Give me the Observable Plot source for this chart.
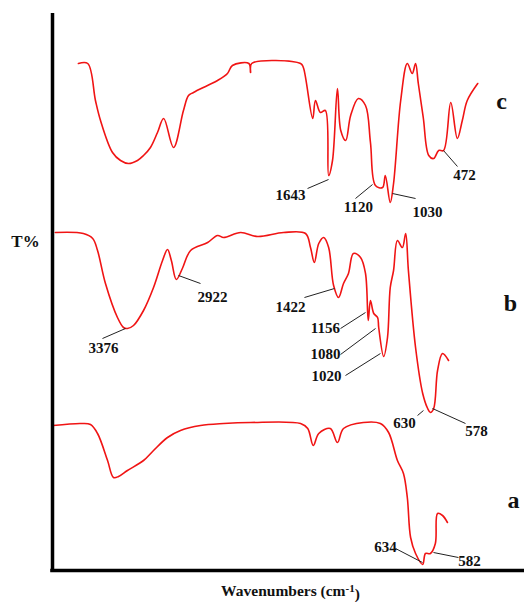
<!DOCTYPE html>
<html>
<head>
<meta charset="utf-8">
<script src="https://cdn.jsdelivr.net/npm/d3@7"></script>
<script src="https://cdn.jsdelivr.net/npm/@observablehq/plot@0.6"></script>
<style>
  html, body { margin: 0; padding: 0; background: #fff; }
  #chart svg { display: block; }
</style>
</head>
<body>
<div id="chart"></div>
<script>
// ---- Data (wavenumber in cm-1, stacked transmittance in arbitrary T% units) ----
const seriesNames = ["a", "b", "c"];

const aWn = [4040, 3790, 3700, 3636, 3545, 3491, 3445, 3364, 3218, 3127, 3000, 2882, 2700, 2490, 2245, 1790, 1725, 1675, 1625, 1520, 1455, 1400, 1220, 1065, 990, 910, 855, 820, 790, 745, 680, 655, 610, 565, 545, 500, 455];
const aT  = [29, 29.4, 29.2, 27.4, 22, 18.6, 18.8, 20, 22, 24, 26.6, 28, 29, 29.4, 29.6, 29.4, 28.4, 25, 27.4, 28.4, 25.6, 28.4, 29.6, 29.4, 27.6, 22, 19.4, 14.6, 6.6, 3.4, 1.2, 3.4, 3.4, 5.4, 11.4, 11, 9.6];

const bWn = [4020, 3765, 3680, 3636, 3564, 3455, 3400, 3365, 3309, 3218, 3127, 3045, 3000, 2965, 2920, 2865, 2790, 2635, 2545, 2490, 2335, 2180, 1945, 1745, 1700, 1665, 1625, 1580, 1535, 1490, 1445, 1400, 1355, 1310, 1245, 1200, 1175, 1155, 1125, 1090, 1080, 1035, 1000, 975, 945, 910, 865, 835, 810, 745, 680, 635, 610, 580, 545, 500, 445];
const bT  = [67.6, 67.4, 66.4, 64, 57.4, 50.6, 48.6, 48.4, 49, 52, 56.6, 62, 64.2, 62, 58.2, 60.4, 64, 65.6, 67, 66.6, 67.6, 66.8, 67.6, 67.4, 64.6, 61.6, 65.4, 66.6, 64.6, 57, 54.6, 57.4, 59.4, 63.4, 62.6, 59.4, 50, 54, 51.4, 50.6, 48.6, 42.8, 46.6, 56.6, 60, 66, 64.6, 67.4, 60, 44.6, 35.4, 32.4, 31.6, 32.4, 40, 43.4, 42];

const cWn = [3810, 3725, 3655, 3609, 3500, 3427, 3355, 3273, 3218, 3155, 3091, 3035, 2945, 2855, 2809, 2764, 2636, 2545, 2455, 2410, 2260, 2245, 2235, 1790, 1765, 1680, 1655, 1610, 1565, 1535, 1500, 1455, 1425, 1380, 1335, 1265, 1200, 1155, 1110, 1045, 1020, 975, 945, 880, 820, 775, 745, 720, 675, 625, 580, 535, 490, 425, 365, 320, 275, 180];
const cT  = [101.4, 101.4, 94, 90, 83.6, 82, 81.4, 82, 83, 84.6, 87.6, 90.4, 84.6, 92, 95, 95.6, 97, 98, 99.4, 101, 101.4, 99.6, 101.4, 101.4, 100.6, 90.4, 94, 91.6, 92, 79, 82, 96.4, 88, 86, 91, 94.4, 93, 85.6, 77, 76.6, 79, 73.6, 77.4, 94, 101.4, 99.4, 101.4, 97.4, 90.6, 83, 82.4, 84, 84, 93.6, 86.4, 90, 94, 97.4];

// Peak annotations: label, label position, leader line start/end (data units)
const peakLabels = ["1643", "1120", "1030", "472", "3376", "2922", "1422", "1156", "1080", "1020", "630", "578", "634", "582"];
const labelWn = [1882, 1264, 636, 300, 3582, 2591, 1882, 1564, 1564, 1555, 845, 191, 1018, 255];
const labelT  = [75, 72.6, 71.6, 79, 44.4, 54.6, 52.6, 48.4, 43.2, 38.8, 29.4, 27.8, 4.6, 1.8];
const leadWn1 = [1727, 1291, 745, 364, 3591, 2700, 1755, 1427, 1427, 1382, 727, 291, 927, 355];
const leadT1  = [76.4, 74.4, 74.4, 80.8, 46.4, 57.4, 54.6, 48.4, 43.2, 39, 31, 29.4, 4.4, 2.6];
const leadWn2 = [1536, 1136, 955, 491, 3382, 2900, 1482, 1200, 1109, 1064, 673, 591, 682, 582];
const leadT2  = [78.2, 77.2, 75.4, 84, 48.4, 59, 56.4, 51.6, 48.4, 43.4, 32, 32.4, 1.6, 3.6];

// Series tags
const tagWn = [-145, -118, -36];
const tagT  = [14, 53.4, 93.8];

const xDomain = [4045.5, -245.4];
const yDomain = [0, 112];
const yAxisTop = 111.4;
const xTitle = "Wavenumbers (cm-1)";
const yTitle = "T%";

// ---- Build tables ----
const spectra = [];
[[aWn, aT], [bWn, bT], [cWn, cT]].forEach(([w, t], i) => {
  w.forEach((v, j) => spectra.push({series: seriesNames[i], wn: v, T: t[j]}));
});
const peaks = peakLabels.map((l, i) => ({
  label: l, x: labelWn[i], y: labelT[i],
  x1: leadWn1[i], y1: leadT1[i], x2: leadWn2[i], y2: leadT2[i]
}));
const tags = seriesNames.map((s, i) => ({label: s, x: tagWn[i], y: tagT[i]}));

const font = "'Liberation Serif', 'Times New Roman', serif";

const chart = Plot.plot({
  width: 524,
  height: 602,
  marginLeft: 52,
  marginRight: 0,
  marginTop: 10,
  marginBottom: 32,
  style: {background: "#fff", fontFamily: font},
  x: {domain: xDomain, axis: null},
  y: {domain: yDomain, axis: null},
  marks: [
    Plot.line(spectra, {x: "wn", y: "T", z: "series", stroke: "#f01414", strokeWidth: 1.6, curve: "catmull-rom"}),
    Plot.link(peaks, {x1: "x1", y1: "y1", x2: "x2", y2: "y2", stroke: "#222", strokeWidth: 1}),
    Plot.text(peaks, {x: "x", y: "y", text: "label", fontSize: 15, fontWeight: "bold", fill: "#111", fontFamily: font}),
    Plot.text(tags, {x: "x", y: "y", text: "label", fontSize: 24, fontWeight: "bold", fill: "#111", fontFamily: font}),
    Plot.ruleX([xDomain[0]], {y1: yDomain[0] - 0.35, y2: yAxisTop, stroke: "#000", strokeWidth: 3.5}),
    Plot.ruleY([yDomain[0]], {x1: xDomain[0] + 16, x2: xDomain[1], stroke: "#000", strokeWidth: 3.5}),
    Plot.text([yTitle], {x: 4291, y: 65.7, text: d => d, fontSize: 17, fontWeight: "bold", fill: "#111", fontFamily: font}),
    Plot.text([xTitle], {x: 1882, y: -4.2, text: d => d, fontSize: 15.5, fontWeight: "bold", fill: "#111", fontFamily: font})
  ]
});

// superscript for the axis title
d3.select(chart).selectAll("text").filter(function () { return this.textContent === xTitle; })
  .each(function () {
    const t = d3.select(this);
    t.text("");
    t.append("tspan").text("Wavenumbers (cm");
    t.append("tspan").attr("dy", "-0.45em").attr("font-size", "11").text("-1");
    t.append("tspan").attr("dy", "0.45em").text(")");
  });

document.getElementById("chart").appendChild(chart);
</script>
</body>
</html>
